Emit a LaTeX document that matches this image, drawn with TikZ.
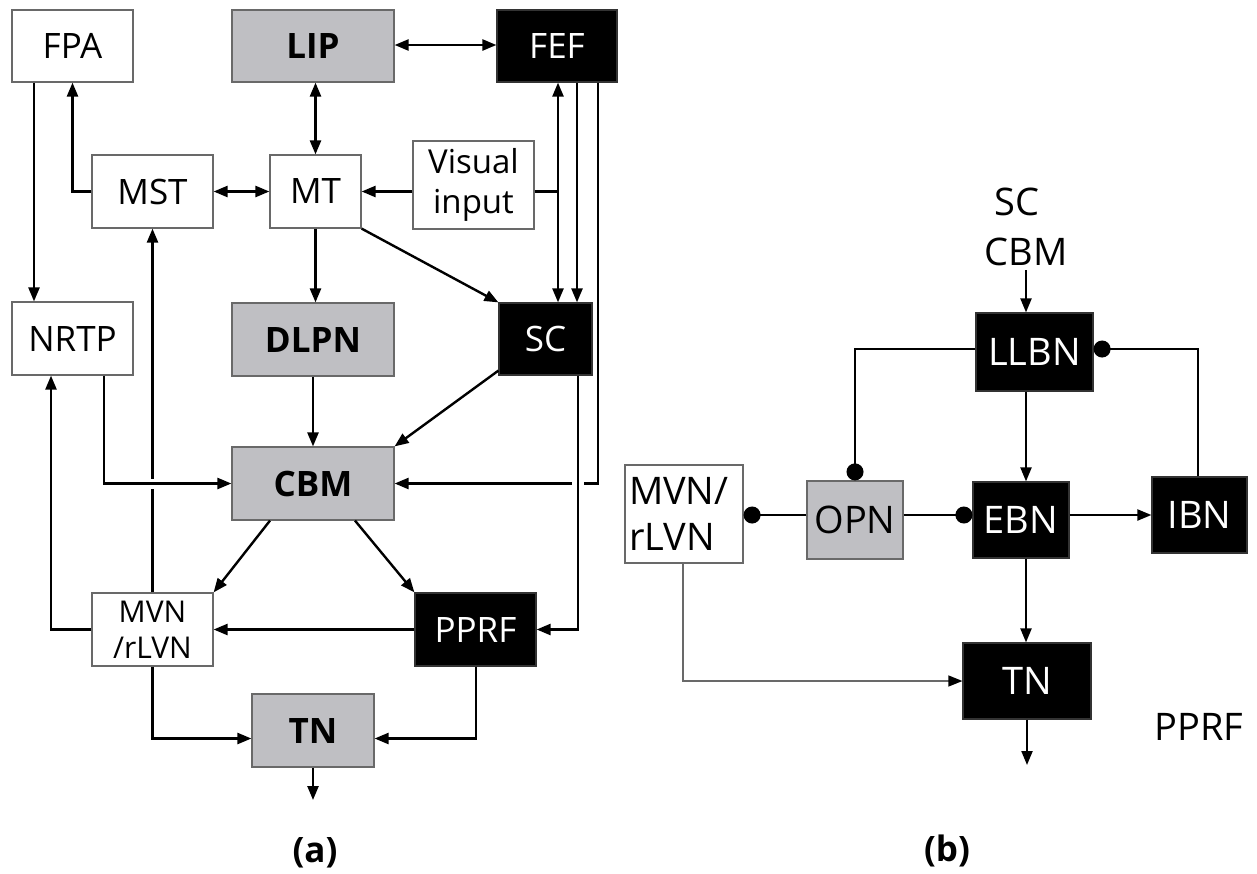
\documentclass[tikz,border=0pt]{standalone}
\usepackage{fontspec}
\setmainfont{Open Sans}
\usetikzlibrary{arrows.meta}
\definecolor{boxgray}{RGB}{191,191,195}
\definecolor{edgegray}{RGB}{105,105,105}
\newcommand\lblfont{\fontsize{35}{42}\selectfont}
\newcommand\bigfont{\fontsize{38}{46}\selectfont}
\begin{document}
\begin{tikzpicture}[x=1pt,y=-1pt,
  box/.style={draw=edgegray, line width=1.2pt, inner sep=0pt, font=\lblfont},
  wbox/.style={box, fill=white},
  gbox/.style={box, fill=boxgray, font=\lblfont\bfseries},
  kbox/.style={box, fill=black, draw=black!80, text=white},
  gboxb/.style={box, fill=boxgray, font=\bigfont},
  kboxb/.style={box, fill=black, draw=black!80, text=white, font=\bigfont},
  tip/.tip={Triangle[length=14pt,width=11pt]},
  ln/.style={line width=2.4pt},
  arr/.style={ln, -tip},
  barr/.style={ln, tip-tip},
  lnb/.style={line width=2.1pt},
  arrb/.style={lnb, -tip},
  dotb/.style={lnb, -{Circle[length=17pt]}},
  thin/.style={line width=1.3pt, draw=edgegray, -{Triangle[length=14pt,width=11pt,color=black]}},
  lab/.style={inner sep=0pt, font=\bigfont}
]
\useasboundingbox (0,0) rectangle (1257,873);

% ---------------- panel (a) ----------------
\node[wbox, minimum width=121pt, minimum height=72pt] (fpa)  at (72.5,46)   {FPA};
\node[gbox, minimum width=162pt, minimum height=72pt] (lip)  at (313,46)    {LIP};
\node[kbox, minimum width=120pt, minimum height=72pt] (fef)  at (557,46)    {FEF};
\node[wbox, minimum width=121pt, minimum height=73pt] (mst)  at (152.5,191.5) {MST};
\node[wbox, minimum width=91pt,  minimum height=73pt] (mt)   at (315.5,191.5) {MT};
\node[wbox, minimum width=121pt, minimum height=88pt, align=center,
      font=\fontsize{33}{40}\selectfont] (vis) at (473.5,185) {Visual\\input};
\node[wbox, minimum width=121pt, minimum height=73pt] (nrtp) at (72.5,338.5) {NRTP};
\node[gbox, minimum width=162pt, minimum height=73pt] (dlpn) at (313,339.5) {DLPN};
\node[kbox, minimum width=93pt,  minimum height=72pt] (sc)   at (545.5,339) {SC};
\node[gbox, minimum width=162pt, minimum height=73pt] (cbm)  at (313,483.5) {CBM};
\node[wbox, minimum width=121pt, minimum height=73pt, align=center,
      font=\fontsize{30}{36}\selectfont] (mvn) at (152.5,629.5) {MVN\\/rLVN};
\node[kbox, minimum width=121pt, minimum height=73pt] (pprf) at (475.5,629.5) {PPRF};
\node[gbox, minimum width=122pt, minimum height=73pt] (tn)   at (313,730.5) {TN};

% attachment points of the three FEF lines
\coordinate (fa) at (558,0);
\coordinate (fb) at (577,0);
\coordinate (fc) at (598,0);

\draw[barr] (lip.east |- 0,45) -- (fef.west |- 0,45);
\draw[barr] (mt.north) -- (mt.north |- lip.south);
\draw[barr] (mst.east) -- (mt.west);
\draw[arr] (vis.west |- mt.east) -- (mt.east);
\draw[ln] (vis.east |- mt.east) -- (mt.east -| fa);
\draw[arr] (mst.west) -| (fpa.south);
\draw[arr] (fpa.south -| 34,0) -- (nrtp.north -| 34,0);
\draw[arr] (mt.south) -- (mt.south |- dlpn.north);
\draw[arr] (mt.south east) -- (sc.north west);
\draw[barr] (fef.south -| fa) -- (sc.north -| fa);
\draw[arr] (fef.south -| fb) -- (sc.north -| fb);
\draw[arr] (dlpn.south) -- (cbm.north);
\draw[arr] ([yshift=5pt]sc.south west) -- (cbm.north east);

% long vertical from MVN up to MST, crossed by the NRTP line
\draw[arr] (mvn.north) -- (mst.south);
\fill[white] (147,479) rectangle (158,489);
\draw[arr] (nrtp.south -| 104,0) |- (cbm.west);

% FEF to CBM, crossed by the SC to PPRF line
\draw[arr] (fef.south -| fc) |- (cbm.east);
\fill[white] (572,478) rectangle (584,489);
\draw[arr] (sc.south -| 578,0) |- (pprf.east);

\draw[arr] (cbm.south -| 270,0) -- (mvn.north east);
\draw[arr] (cbm.south -| 355,0) -- (pprf.north west);
\draw[arr] (pprf.west) -- (mvn.east);
\draw[arr] (mvn.west) -| (nrtp.south -| 51,0);
\draw[arr] (mvn.south) |- ([yshift=-8pt]tn.west);
\draw[arr] (pprf.south -| 476,0) |- ([yshift=-8pt]tn.east);
\coordinate (tnout) at (313,800);
\draw[arr] (tn.south) -- (tnout);

\node[lab, font=\fontsize{35}{40}\selectfont\bfseries] (capa) at (315,853) {(a)};

% ---------------- panel (b) ----------------
\coordinate (axis) at (1026,0);
\node[lab] (sclab)  at (1017,202) {SC};
\node[lab] (cbmlab) at (1026,252) {CBM};
\node[kboxb, minimum width=117pt, minimum height=78pt] (llbn) at (1034.5,352) {LLBN};
\node[gboxb, minimum width=96pt,  minimum height=78pt] (opn)  at (855,520)    {OPN};
\node[kboxb, minimum width=96pt,  minimum height=76pt] (ebn)  at (1021,520)   {EBN};
\node[kboxb, minimum width=95pt,  minimum height=76pt] (ibn)  at (1199.5,515) {IBN};
\node[wbox, minimum width=118pt, minimum height=98pt, text width=110pt, align=left,
      font=\fontsize{38}{46}\selectfont] (mvnb) at (684,514) {MVN/\\rLVN};
\node[kboxb, minimum width=128pt, minimum height=76pt] (tnb) at (1027,681) {TN};
\node[lab] (pprflab) at (1199,727) {PPRF};

\coordinate (bin) at (1026,270);
\draw[arrb] (bin) -- (bin |- llbn.north);
\draw[dotb] (llbn.west |- 0,349) -| (opn.north);
\draw[dotb] (ibn.north -| 1198,0) |- (llbn.east |- 0,349);
\draw[arrb] (llbn.south -| axis) -- (ebn.north -| axis);
\draw[dotb] ([yshift=5pt]opn.west) -- ([yshift=5pt]opn.west -| mvnb.east);
\draw[dotb] ([yshift=5pt]opn.east) -- ([yshift=5pt]opn.east -| ebn.west);
\draw[arrb] (ebn.east |- ibn.west) -- (ibn.west);
\draw[arrb] (ebn.south -| axis) -- (tnb.north -| axis);
\draw[thin] (mvnb.south -| 683,0) |- (tnb.west);
\coordinate (tnbout) at (1027,765);
\draw[arrb] (tnb.south -| tnbout) -- (tnbout);

\node[lab, font=\fontsize{35}{40}\selectfont\bfseries] (capb) at (947,851) {(b)};
\end{tikzpicture}
\end{document}
